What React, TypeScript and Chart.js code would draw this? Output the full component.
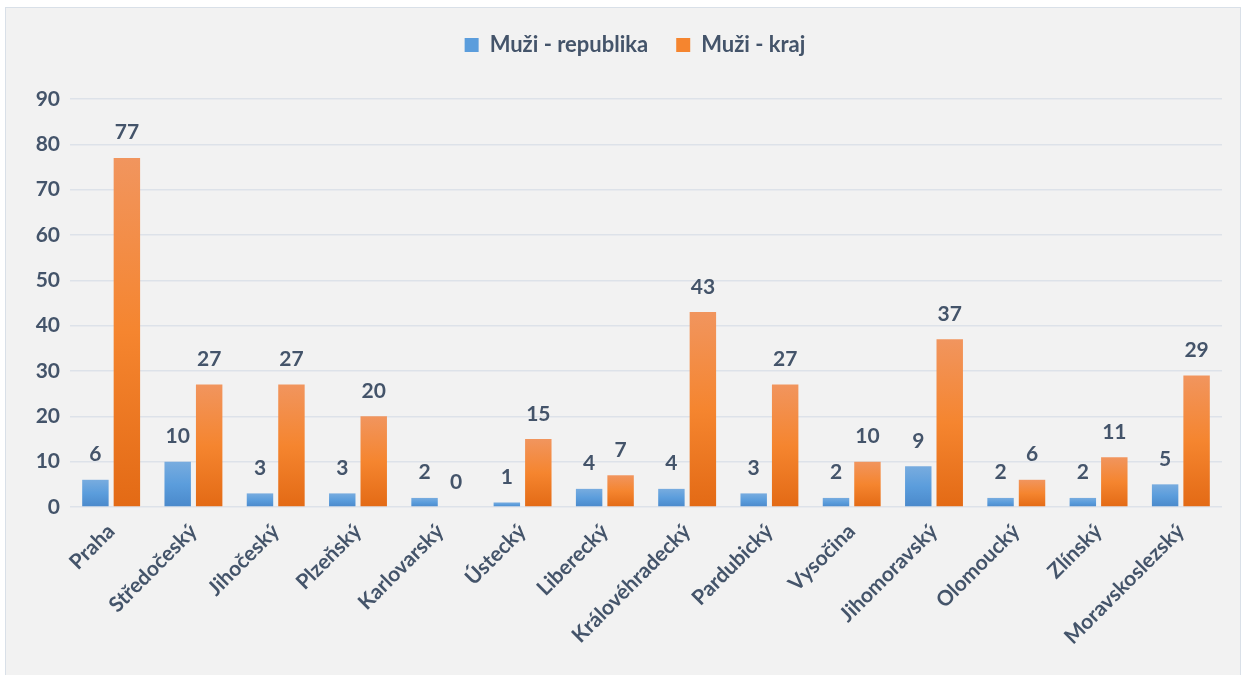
import React, { useEffect, useRef } from "react";
import { Chart, registerables } from "chart.js";

Chart.register(...registerables);

const categories = [
  "Praha",
  "Středočeský",
  "Jihočeský",
  "Plzeňský",
  "Karlovarský",
  "Ústecký",
  "Liberecký",
  "Královéhradecký",
  "Pardubický",
  "Vysočina",
  "Jihomoravský",
  "Olomoucký",
  "Zlínský",
  "Moravskoslezský",
];
const republikaValues = [6, 10, 3, 3, 2, 1, 4, 4, 3, 2, 9, 2, 2, 5];
const krajValues = [77, 27, 27, 20, 0, 15, 7, 43, 27, 10, 37, 6, 11, 29];
const seriesNames = ["Muži - republika", "Muži - kraj"];
const yTicks = [0, 10, 20, 30, 40, 50, 60, 70, 80, 90];

const TEXT = "#44546a";
const FONT = "Lato, 'Open Sans', sans-serif";

const blueStops = ["#78acdf", "#5b9ddc", "#4a89cb"];
const orangeStops = ["#f1955e", "#f5852f", "#e36a15"];

function gradientFill(stops: string[]) {
  return (c: any) => {
    const chart = c.chart;
    const y = chart.scales && chart.scales.y;
    if (!y || c.raw == null || c.type !== "data") return stops[1];
    const top = y.getPixelForValue(c.raw);
    const bot = y.getPixelForValue(0);
    if (!isFinite(top) || !isFinite(bot) || Math.abs(bot - top) < 1) return stops[1];
    const g = chart.ctx.createLinearGradient(0, top, 0, bot);
    g.addColorStop(0, stops[0]);
    g.addColorStop(0.5, stops[1]);
    g.addColorStop(1, stops[2]);
    return g;
  };
}

const valueLabels = {
  id: "valueLabels",
  afterDatasetsDraw(chart: any) {
    const ctx = chart.ctx;
    ctx.save();
    ctx.font = `bold 21px ${FONT}`;
    ctx.fillStyle = TEXT;
    ctx.textAlign = "center";
    ctx.textBaseline = "alphabetic";
    chart.data.datasets.forEach((ds: any, di: number) => {
      const meta = chart.getDatasetMeta(di);
      meta.data.forEach((el: any, i: number) => {
        const v = ds.data[i];
        ctx.fillText(String(v), el.x, el.y - 18.5);
      });
    });
    ctx.restore();
  },
};

const legendShift = {
  id: "legendShift",
  afterLayout(chart: any) {
    const lg = chart.legend;
    if (lg) {
      lg.left += 24;
      lg.right += 24;
    }
  },
};

export default function App() {
  const ref = useRef<HTMLCanvasElement | null>(null);

  useEffect(() => {
    document.body.style.margin = "0";
    if (!ref.current) return;
    const chart = new Chart(ref.current, {
      type: "bar",
      data: {
        labels: categories,
        datasets: [
          {
            label: seriesNames[0],
            data: republikaValues,
            backgroundColor: gradientFill(blueStops),
            categoryPercentage: 0.765,
            barPercentage: 0.84,
          },
          {
            label: seriesNames[1],
            data: krajValues,
            backgroundColor: gradientFill(orangeStops),
            categoryPercentage: 0.765,
            barPercentage: 0.84,
          },
        ],
      },
      options: {
        animation: false,
        responsive: false,
        maintainAspectRatio: false,
        layout: { padding: { top: 6, right: 19, left: 0, bottom: 0 } },
        plugins: {
          legend: {
            display: true,
            position: "top",
            weight: 3000,
            labels: {
              color: TEXT,
              font: { family: FONT, size: 22, weight: "bold" },
              boxWidth: 14,
              boxHeight: 14,
              padding: 28,
              generateLabels: () =>
                [blueStops, orangeStops].map((s, i) => ({
                  text: seriesNames[i],
                  fillStyle: s[1],
                  strokeStyle: s[1],
                  lineWidth: 0,
                  hidden: false,
                  datasetIndex: i,
                  fontColor: TEXT,
                })),
            },
          },
          title: {
            display: true,
            text: "",
            weight: 500,
            font: { size: 1, lineHeight: 1 },
            padding: { top: 0, bottom: 32 },
          },
          tooltip: { enabled: false },
        },
        scales: {
          x: {
            grid: { display: false },
            border: { display: false },
            ticks: {
              color: TEXT,
              font: { family: FONT, size: 21, weight: "bold" },
              maxRotation: 45,
              minRotation: 45,
              autoSkip: false,
              padding: 4,
            },
            afterFit: (s: any) => {
              s.height = 168;
            },
          },
          y: {
            min: 0,
            max: 90,
            afterBuildTicks: (s: any) => {
              s.ticks = yTicks.map((v) => ({ value: v }));
            },
            grid: { color: "#dde2e9", lineWidth: 1.5, drawTicks: false },
            border: { display: false },
            ticks: {
              color: TEXT,
              font: { family: FONT, size: 21, weight: "bold" },
              padding: 10,
            },
            afterFit: (s: any) => {
              s.width = 70;
            },
          },
        },
      },
      plugins: [valueLabels, legendShift],
    });
    return () => chart.destroy();
  }, []);

  return (
    <div style={{ position: "absolute", left: 0, top: 0, width: 1241, height: 675, background: "#ffffff", overflow: "hidden" }}>
      <div
        style={{
          position: "absolute",
          left: 5,
          top: 7,
          width: 1236,
          height: 670,
          background: "#f2f2f2",
          border: "1px solid #d9e0e8",
          boxSizing: "border-box",
        }}
      />
      <canvas ref={ref} width={1241} height={675} style={{ position: "absolute", left: 0, top: 0, width: 1241, height: 675 }} />
    </div>
  );
}
